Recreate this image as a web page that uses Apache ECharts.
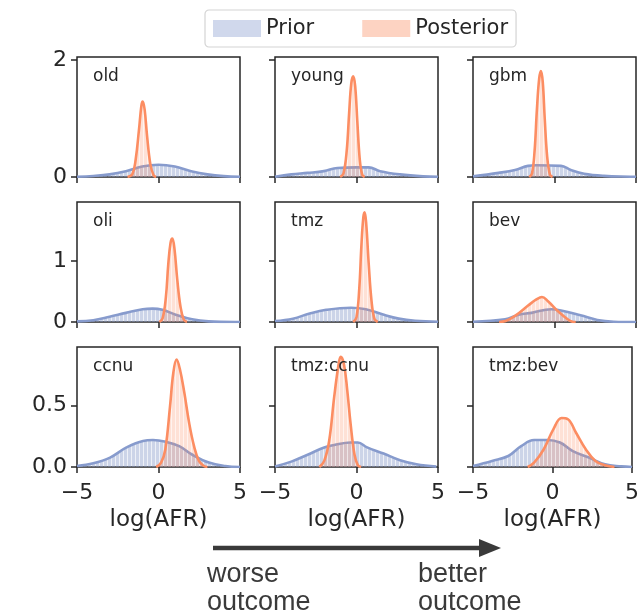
<!DOCTYPE html>
<html>
<head>
<meta charset="utf-8">
<script src="https://cdn.jsdelivr.net/npm/echarts@6/dist/echarts.min.js"></script>
<style>
  html, body { margin: 0; padding: 0; background: #fff; }
  #chart { width: 642px; height: 614px; }
</style>
</head>
<body>
<div id="chart"></div>
<script>
// panel names, row by row
var panelNames = ['old', 'young', 'gbm', 'oli', 'tmz', 'bev', 'ccnu', 'tmz:ccnu', 'tmz:bev']

// density curves, [log(AFR), density]
var old_prior = [[-5, 0.005], [-4, 0.018], [-3, 0.045], [-2, 0.1], [-1, 0.18], [0, 0.21], [1, 0.18], [2, 0.1], [3, 0.045], [4, 0.015], [5, 0.004]]
var old_post = [[-1.9, 0], [-1.6, 0.05], [-1.4, 0.3], [-1.2, 0.8], [-1.05, 1.22], [-0.97, 1.29], [-0.85, 1.15], [-0.7, 0.7], [-0.5, 0.22], [-0.3, 0.03], [-0.15, 0]]
var young_prior = [[-5, 0.003], [-4, 0.045], [-3, 0.07], [-2, 0.1], [-1.17, 0.155], [0, 0.165], [0.75, 0.165], [1.45, 0.1], [2.67, 0.045], [4.08, 0.01], [5, 0.002]]
var young_post = [[-1, 0], [-0.8, 0.06], [-0.6, 0.45], [-0.45, 1.1], [-0.32, 1.6], [-0.2, 1.72], [-0.08, 1.55], [0.05, 0.95], [0.2, 0.3], [0.35, 0.04], [0.5, 0]]
var gbm_prior = [[-5, 0.01], [-3.43, 0.07], [-2.42, 0.12], [-1.62, 0.19], [-1.11, 0.2], [0.4, 0.19], [1.0, 0.12], [1.82, 0.056], [3.03, 0.02], [4.65, 0.005], [5, 0.003]]
var gbm_post = [[-1.55, 0], [-1.38, 0.06], [-1.22, 0.45], [-1.08, 1.15], [-0.94, 1.68], [-0.83, 1.81], [-0.72, 1.62], [-0.6, 1.0], [-0.45, 0.35], [-0.28, 0.04], [-0.12, 0]]
var oli_prior = [[-5, 0.01], [-4, 0.03], [-3, 0.087], [-2, 0.15], [-0.97, 0.21], [-0.36, 0.22], [0.24, 0.2], [1.05, 0.12], [2.06, 0.044], [3.07, 0.01], [4.7, 0], [5, 0]]
var oli_post = [[0.05, 0], [0.25, 0.06], [0.45, 0.4], [0.6, 0.95], [0.74, 1.3], [0.85, 1.37], [0.98, 1.2], [1.15, 0.7], [1.35, 0.25], [1.55, 0.04], [1.75, 0]]
var tmz_prior = [[-5, 0.016], [-3.9, 0.055], [-2.87, 0.14], [-1.86, 0.2], [-0.34, 0.235], [0.57, 0.21], [1.58, 0.126], [2.59, 0.055], [3.6, 0.02], [5, 0.005]]
var tmz_post = [[-0.2, 0], [0, 0.08], [0.17, 0.55], [0.3, 1.25], [0.42, 1.72], [0.5, 1.8], [0.6, 1.6], [0.75, 0.95], [0.92, 0.35], [1.1, 0.05], [1.3, 0]]
var bev_prior = [[-5, 0.005], [-3.03, 0.044], [-2.2, 0.12], [-1.41, 0.15], [-0.2, 0.21], [0.4, 0.19], [1.6, 0.11], [2.63, 0.033], [3.64, 0.005], [5, 0]]
var bev_post = [[-3.4, 0], [-3.0, 0.015], [-2.42, 0.1], [-1.62, 0.27], [-1.11, 0.37], [-0.77, 0.41], [-0.4, 0.34], [0.2, 0.18], [0.81, 0.044], [1.1, 0.005], [1.3, 0]]
var ccnu_prior = [[-5, 0.008], [-4, 0.03], [-2.97, 0.077], [-1.96, 0.16], [-0.95, 0.213], [-0.34, 0.22], [0.46, 0.205], [1.27, 0.17], [2.08, 0.1], [3.09, 0.036], [4.1, 0.008], [5, 0]]
var ccnu_post = [[-0.14, 0], [0.16, 0.035], [0.42, 0.145], [0.71, 0.5], [0.91, 0.77], [1.11, 0.877], [1.31, 0.8], [1.58, 0.61], [1.88, 0.36], [2.18, 0.17], [2.48, 0.05], [2.79, 0.008], [3.0, 0]]
var tmzccnu_prior = [[-5, 0.005], [-4, 0.044], [-3, 0.1], [-1.98, 0.16], [-1.37, 0.18], [-0.36, 0.2], [0.08, 0.2], [0.65, 0.16], [1.66, 0.11], [2.67, 0.055], [3.68, 0.022], [4.9, 0.003]]
var tmzccnu_post = [[-2.28, 0], [-1.98, 0.05], [-1.68, 0.21], [-1.37, 0.57], [-1.13, 0.81], [-0.97, 0.9], [-0.77, 0.84], [-0.57, 0.63], [-0.36, 0.35], [-0.12, 0.1], [0.08, 0.016], [0.28, 0]]
var tmzbev_prior = [[-5, 0.008], [-3.8, 0.05], [-2.78, 0.09], [-1.97, 0.17], [-1.16, 0.22], [-0.34, 0.22], [0.47, 0.2], [1.28, 0.13], [2.29, 0.077], [3.3, 0.022], [4.32, 0.005], [5, 0]]
var tmzbev_post = [[-1.56, 0], [-1.16, 0.035], [-0.55, 0.145], [0.06, 0.31], [0.57, 0.4], [0.97, 0.39], [1.48, 0.28], [2.09, 0.145], [2.7, 0.05], [3.3, 0.014], [3.9, 0]]

var priorCurves = [old_prior, young_prior, gbm_prior, oli_prior, tmz_prior, bev_prior, ccnu_prior, tmzccnu_prior, tmzbev_prior]
var postCurves = [old_post, young_post, gbm_post, oli_post, tmz_post, bev_post, ccnu_post, tmzccnu_post, tmzbev_post]

var xTicks = [-5, 0, 5]
var yTicks = [[0, 2], [0, 1], [0, 0.5]]
var yMax = [2.05, 1.97, 0.98]

var priorColor = '#879bcd'
var postColor = '#fc8d62'
var ink = '#262626'
var font = 'DejaVu Sans'

// striped fill, looks like the thin histogram bars under each curve
function stripes (fill, gap) {
  var c = document.createElement('canvas')
  c.width = 4
  c.height = 4
  var ctx = c.getContext('2d')
  ctx.fillStyle = fill
  ctx.fillRect(0, 0, 3, 4)
  ctx.fillStyle = gap
  ctx.fillRect(3, 0, 1, 4)
  return { image: c, repeat: 'repeat' }
}

var lefts = [77, 275, 473]
var tops = [57, 202, 347]
var grid = []
var xAxis = []
var yAxis = []
var series = []
var title = []

for (var i = 0; i < 9; i++) {
  var row = Math.floor(i / 3)
  var col = i % 3
  grid.push({
    left: lefts[col], top: tops[row], width: 163, height: 120,
    show: true, borderColor: ink, borderWidth: 1.5, backgroundColor: 'transparent'
  })
  xAxis.push({
    gridIndex: i, type: 'value', min: -5, max: 5, position: 'bottom',
    axisLine: { show: false, onZero: false },
    splitLine: { show: false },
    axisTick: { show: true, length: 6, inside: false, customValues: xTicks, lineStyle: { color: ink, width: 1.5 } },
    axisLabel: {
      show: row === 2, customValues: xTicks, margin: 15, color: ink, fontSize: 22, fontFamily: font,
      formatter: function (v) { return String(v).replace('-', '\u2212') }
    },
    name: row === 2 ? 'log(AFR)' : '',
    nameLocation: 'middle', nameGap: 42,
    nameTextStyle: { color: ink, fontSize: 23, fontFamily: font }
  })
  yAxis.push({
    gridIndex: i, type: 'value', min: 0, max: yMax[row], position: 'left',
    axisLine: { show: false, onZero: false },
    splitLine: { show: false },
    axisTick: { show: true, length: 6, inside: false, customValues: yTicks[row], lineStyle: { color: ink, width: 1.5 } },
    axisLabel: {
      show: col === 0, customValues: yTicks[row], margin: 10, color: ink, fontSize: 22, fontFamily: font,
      formatter: row === 2 ? function (v) { return v.toFixed(1) } : function (v) { return String(v) }
    }
  })
  title.push({
    text: panelNames[i], left: lefts[col] + 16, top: tops[row] + 11, padding: 0,
    textStyle: { color: ink, fontSize: 17, fontWeight: 'normal', fontFamily: font }
  })
  series.push({
    name: 'Prior', type: 'line', xAxisIndex: i, yAxisIndex: i,
    data: priorCurves[i], smooth: 0.4, showSymbol: false, clip: true, z: 2,
    lineStyle: { color: priorColor, width: 2.6 },
    itemStyle: { color: priorColor },
    areaStyle: { color: stripes('rgba(141,160,203,0.45)', 'rgba(141,160,203,0.16)'), opacity: 1 }
  })
  series.push({
    name: 'Posterior', type: 'line', xAxisIndex: i, yAxisIndex: i,
    data: postCurves[i], smooth: 0.4, showSymbol: false, clip: true, z: 3,
    lineStyle: { color: postColor, width: 2.6 },
    itemStyle: { color: postColor },
    areaStyle: { color: stripes('rgba(252,141,98,0.26)', 'rgba(252,141,98,0.1)'), opacity: 1 }
  })
}

var myChart = echarts.init(document.getElementById('chart'))
var option = {
  animation: false,
  backgroundColor: '#fff',
  title: title,
  legend: {
    left: 205, top: 10, padding: [8, 8, 8, 8],
    itemWidth: 48, itemHeight: 17, itemGap: 48,
    borderColor: '#d4d4d4', borderWidth: 1.2, borderRadius: 4,
    backgroundColor: '#fff',
    textStyle: { color: ink, fontSize: 21, fontFamily: font },
    data: [
      { name: 'Prior', icon: 'rect', itemStyle: { color: '#d0d8ec' } },
      { name: 'Posterior', icon: 'rect', itemStyle: { color: '#fdd3c2' } }
    ]
  },
  grid: grid,
  xAxis: xAxis,
  yAxis: yAxis,
  series: series,
  graphic: [
    { type: 'line', shape: { x1: 213, y1: 548, x2: 482, y2: 548 }, style: { stroke: '#3a3a3a', lineWidth: 4.5 } },
    { type: 'polygon', shape: { points: [[479, 539], [501, 548], [479, 557]] }, style: { fill: '#3a3a3a' } },
    { type: 'text', left: 207, top: 561, style: { text: 'worse\noutcome', fill: '#3a3a3a', font: '27px "Liberation Sans"', lineHeight: 28 } },
    { type: 'text', left: 418, top: 561, style: { text: 'better\noutcome', fill: '#3a3a3a', font: '27px "Liberation Sans"', lineHeight: 28 } }
  ]
}
myChart.setOption(option)
</script>
</body>
</html>
